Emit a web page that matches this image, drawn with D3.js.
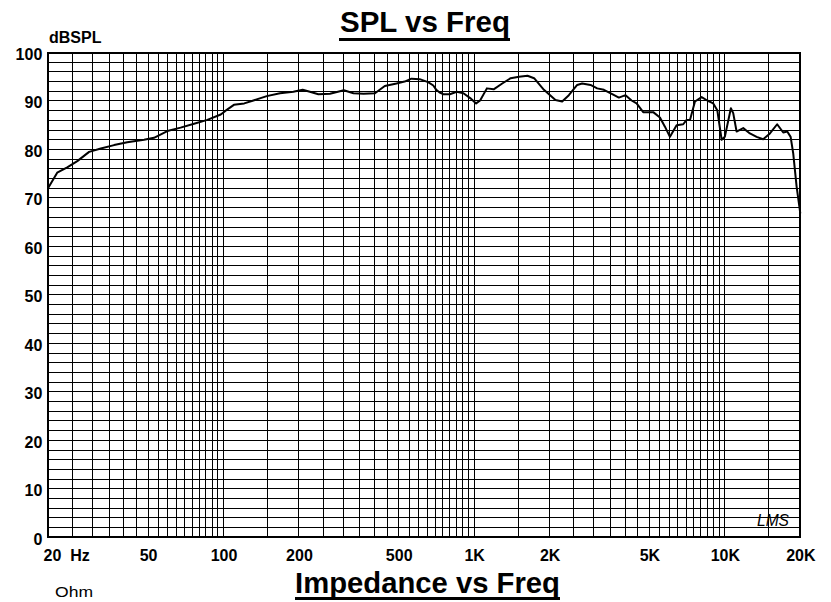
<!DOCTYPE html>
<html>
<head>
<meta charset="utf-8">
<script src="https://cdn.jsdelivr.net/npm/d3@7"></script>
<style>
  html, body { margin: 0; padding: 0; background: #fff; }
  svg { display: block; }
  text { font-family: "Liberation Sans", Arial, sans-serif; }
</style>
</head>
<body>
<svg id="chart" width="831" height="602"></svg>
<script>
// ---- data ----
const freqHz = [20, 21.7, 23.8, 26.1, 29.1, 32.4, 36.6, 41.3, 48.2, 52.8, 59.7, 67.4, 76.3, 86.2, 97.5, 102, 110, 121,
  131.6, 148.8, 168, 190, 207, 221, 239, 266, 302, 330, 362, 402, 440, 490, 528, 562, 606, 655, 687, 706, 726, 752,
  800, 852, 906, 964, 1018, 1056, 1124, 1196, 1294, 1398, 1510, 1632, 1734, 1898, 2110, 2244, 2386, 2576, 2696, 2912,
  3096, 3292, 3554, 3778, 4016, 4246, 4446, 4724, 5180, 5508, 5768, 6040, 6420, 6822, 7040, 7260, 7600, 8080, 8510,
  8990, 9330, 9710, 10000, 10570, 10800, 11140, 11840, 12590, 13390, 14220, 15130, 16170, 17100, 17740, 18300, 18740,
  19340, 20000];
const splDb = [72.1, 75.2, 76.3, 77.6, 79.5, 80.2, 80.9, 81.5, 82.0, 82.4, 83.8, 84.5, 85.3, 86.1, 87.2, 88.0, 89.2, 89.5,
  90.1, 91.0, 91.6, 91.9, 92.3, 91.9, 91.4, 91.5, 92.2, 91.6, 91.5, 91.6, 93.1, 93.6, 94.0, 94.6, 94.5, 93.9, 93.2, 92.3, 91.8, 91.4,
  91.4, 91.9, 91.6, 90.6, 89.5, 90.1, 92.6, 92.4, 93.6, 94.7, 95.0, 95.2, 94.7, 92.3, 90.2, 89.9, 91.2, 93.3, 93.6, 93.3,
  92.6, 92.3, 91.4, 90.7, 91.2, 90.1, 89.5, 87.7, 87.7, 86.6, 84.7, 82.6, 85.0, 85.2, 86.1, 86.1, 89.9, 90.8, 90.1,
  89.5, 88.1, 82.0, 82.6, 88.5, 87.5, 83.7, 84.4, 83.3, 82.6, 82.1, 83.3, 85.2, 83.5, 83.7, 82.6, 79.2,
  72.3, 66.8];
const xTickValues = [20, 50, 100, 200, 500, 1000, 2000, 5000, 10000, 20000];
const xTickLabels = ["20  Hz", "50", "100", "200", "500", "1K", "2K", "5K", "10K", "20K"];
const yTickValues = [0, 10, 20, 30, 40, 50, 60, 70, 80, 90, 100];
const yUnit = "dBSPL";
const title = "SPL vs Freq";
const title2 = "Impedance vs Freq";
const unit2 = "Ohm";
const logo = "LMS";

// ---- layout ----
const svg = d3.select("#chart");
const pL = 48.3, pR = 800.3, pT = 52.5, pB = 537.3;
const x = d3.scaleLog().domain([20, 20000]).range([pL, pR]);
const y = d3.scaleLinear().domain([0, 100]).range([pB, pT]);

// grid frequencies: 5 Hz steps 20-100, 50 Hz 100-1K, 500 Hz 1K-10K, 5K 10K-20K
const gridF = [];
for (let f = 25; f < 100; f += 5) gridF.push(f);
for (let f = 100; f < 1000; f += 50) gridF.push(f);
for (let f = 1000; f < 10000; f += 500) gridF.push(f);
for (let f = 10000; f < 20000; f += 5000) gridF.push(f);
const gridDb = d3.range(2, 100, 2);

const grid = svg.append("g").attr("shape-rendering", "crispEdges").attr("stroke", "#000").attr("stroke-width", 1);
grid.selectAll("line.v").data(gridF).join("line").attr("class", "v")
  .attr("x1", d => x(d)).attr("x2", d => x(d)).attr("y1", pT).attr("y2", pB);
grid.selectAll("line.h").data(gridDb).join("line").attr("class", "h")
  .attr("x1", pL).attr("x2", pR).attr("y1", d => y(d)).attr("y2", d => y(d));

svg.append("rect").attr("x", pL).attr("y", pT).attr("width", pR - pL).attr("height", pB - pT)
  .attr("fill", "none").attr("stroke", "#000").attr("stroke-width", 2).attr("shape-rendering", "crispEdges");

// curve
const line = d3.line().x((d, i) => x(freqHz[i])).y(d => y(d)).curve(d3.curveLinear);
svg.append("path").datum(splDb).attr("d", line).attr("fill", "none").attr("stroke", "#000")
  .attr("stroke-width", 2).attr("stroke-linejoin", "round");

// axes
const xAxis = svg.append("g").attr("transform", `translate(0,${pB})`)
  .call(d3.axisBottom(x).tickValues(xTickValues).tickFormat((d, i) => xTickLabels[i]).tickSize(0).tickPadding(12));
xAxis.select(".domain").remove();
xAxis.selectAll("text").attr("font-family", "'Liberation Sans', Arial, sans-serif").attr("font-size", 16)
  .attr("font-weight", "bold").attr("fill", "#000").style("white-space", "pre");
xAxis.selectAll(".tick").filter((d, i) => i === 0).select("text").attr("text-anchor", "start").attr("x", 43 - pL);

const yAxis = svg.append("g").attr("transform", `translate(${pL},0)`)
  .call(d3.axisLeft(y).tickValues(yTickValues).tickSize(0).tickPadding(6));
yAxis.select(".domain").remove();
yAxis.selectAll("text").attr("font-family", "'Liberation Sans', Arial, sans-serif").attr("font-size", 16)
  .attr("font-weight", "bold").attr("fill", "#000").attr("dy", "0.42em");

// labels
svg.append("text").attr("x", 49).attr("y", 43).attr("font-size", 16).attr("font-weight", "bold").text(yUnit);

svg.append("text").attr("x", 425).attr("y", 32).attr("text-anchor", "middle").attr("font-size", 30)
  .attr("font-weight", "bold").attr("textLength", 170).attr("lengthAdjust", "spacingAndGlyphs").text(title);
svg.append("rect").attr("x", 339).attr("y", 38).attr("width", 171).attr("height", 3).attr("fill", "#000");

svg.append("text").attr("x", 427.5).attr("y", 593).attr("text-anchor", "middle").attr("font-size", 30)
  .attr("font-weight", "bold").attr("textLength", 265).attr("lengthAdjust", "spacingAndGlyphs").text(title2);
svg.append("rect").attr("x", 295).attr("y", 597).attr("width", 265).attr("height", 3).attr("fill", "#000");

svg.append("text").attr("x", 55).attr("y", 597).attr("font-size", 15)
  .attr("textLength", 38).attr("lengthAdjust", "spacingAndGlyphs").text(unit2);

svg.append("text").attr("x", 773).attr("y", 526).attr("text-anchor", "middle").attr("font-size", 16)
  .attr("font-style", "italic").attr("font-family", "'DejaVu Sans', sans-serif")
  .attr("textLength", 32).attr("lengthAdjust", "spacingAndGlyphs").text(logo);
</script>
</body>
</html>
